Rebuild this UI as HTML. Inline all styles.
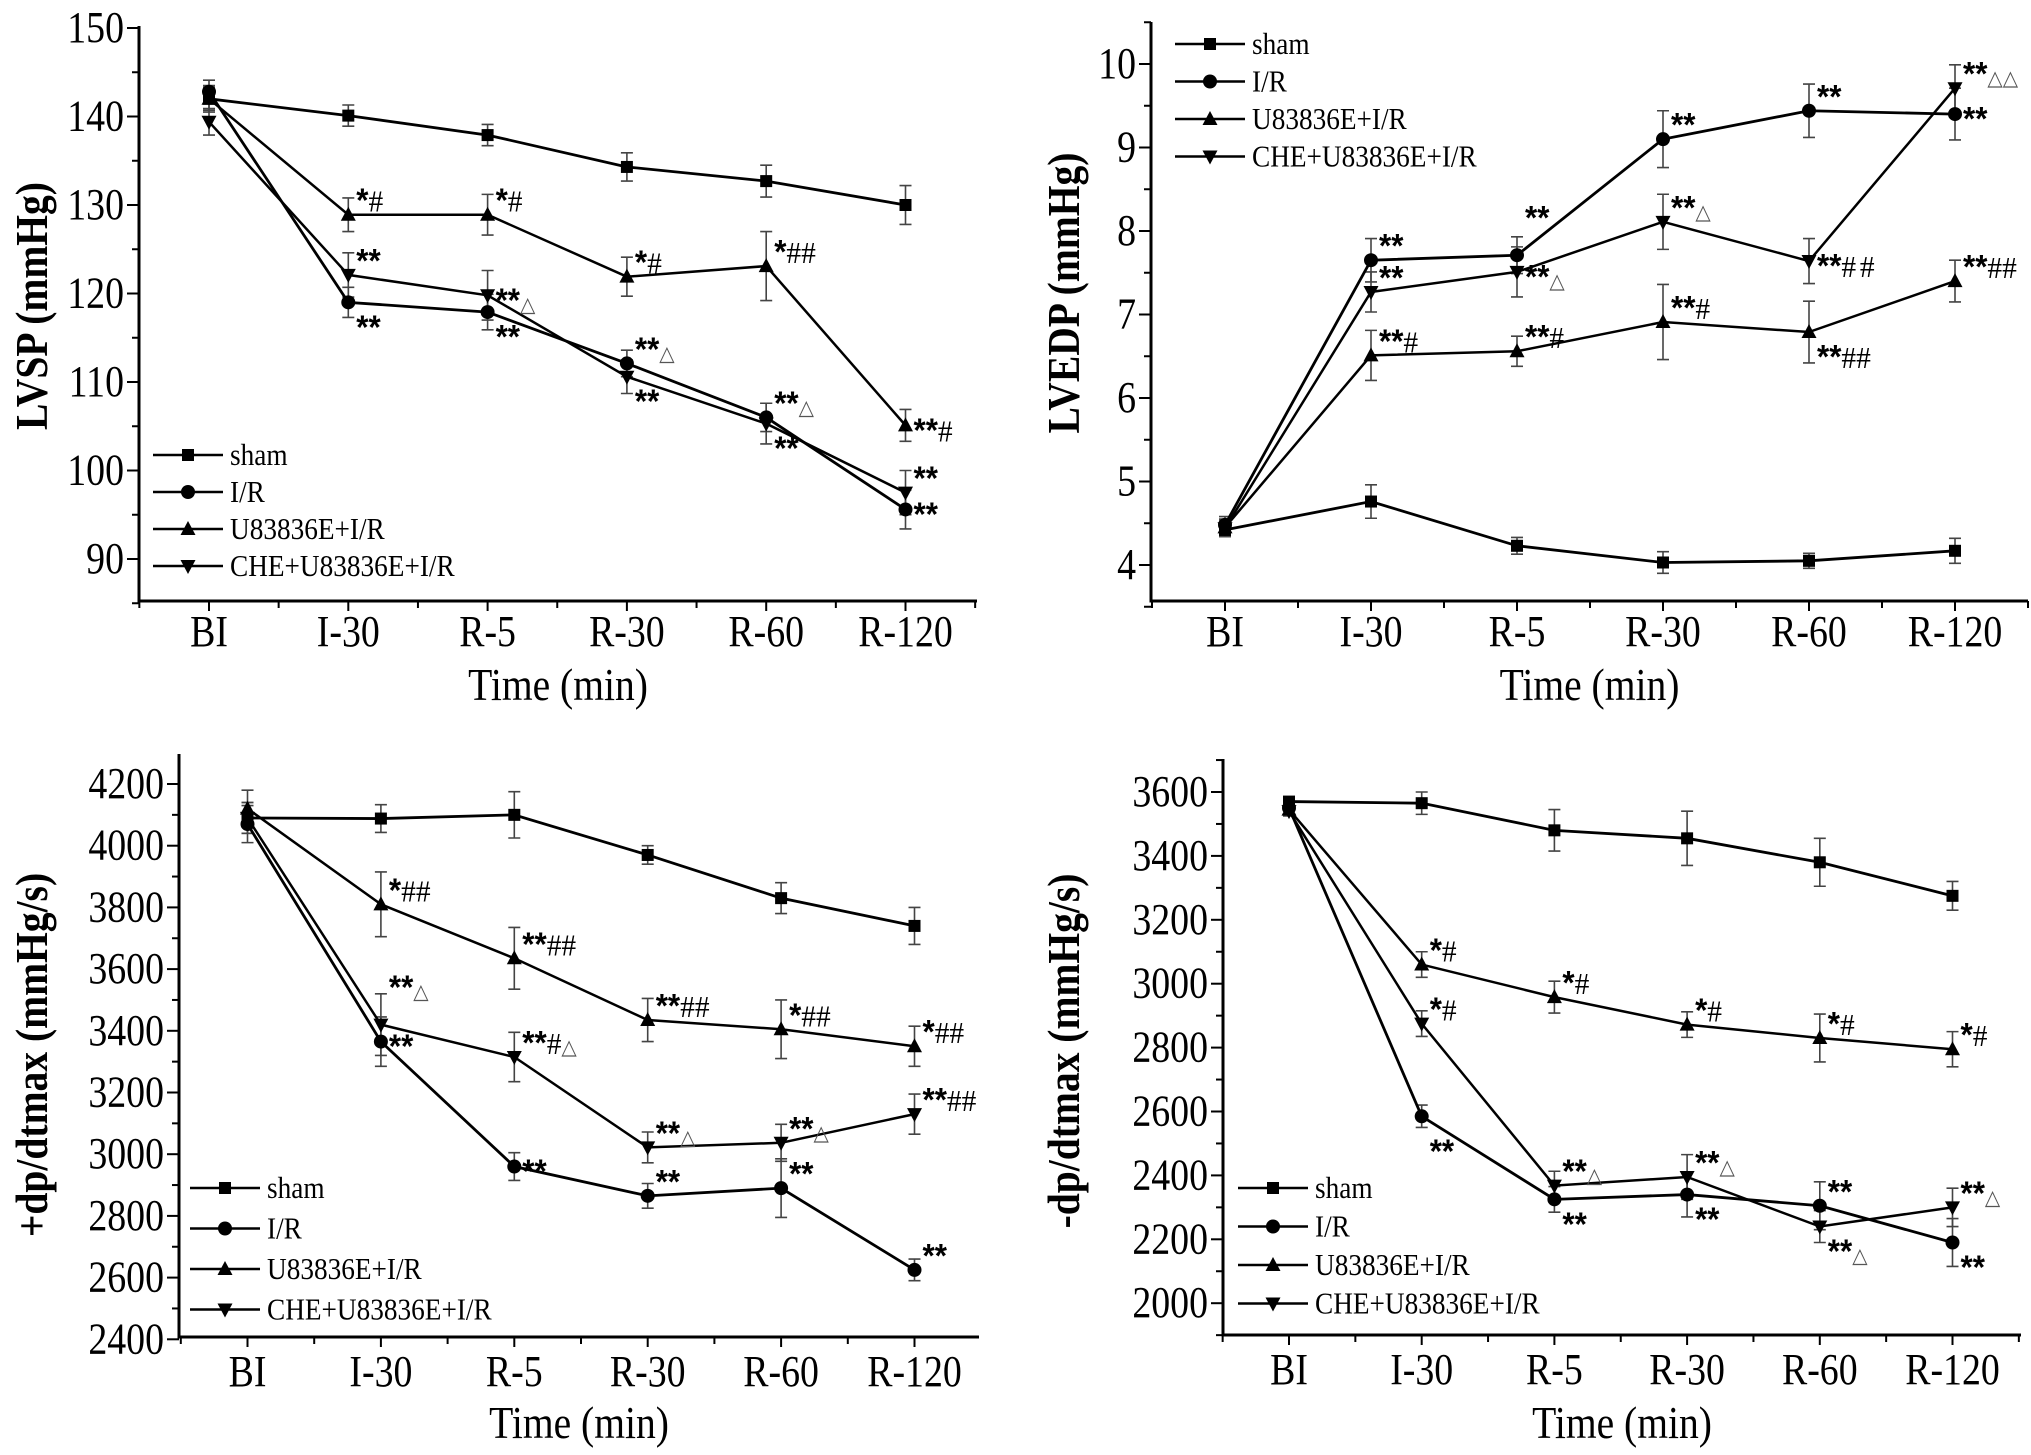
<!DOCTYPE html>
<html><head><meta charset="utf-8"><style>
html,body{margin:0;padding:0;background:#fff}
svg{display:block}
text{font-family:"Liberation Serif",serif;fill:#000}
.ann{font-family:"Liberation Sans",sans-serif;font-size:33px;font-weight:bold}
.tri{font-family:"DejaVu Sans",sans-serif;font-size:21px;font-weight:normal;fill:#555}
</style></head><body>
<svg id="fig" width="2031" height="1455" viewBox="0 0 2031 1455" xmlns="http://www.w3.org/2000/svg"></svg>
<script>
const categories=["BI","I-30","R-5","R-30","R-60","R-120"];
const seriesNames=["sham","I/R","U83836E+I/R","CHE+U83836E+I/R"];
const markerKinds=["square","circle","up","down"];

// Panel A: LVSP
const lvspSham=[142,140.1,137.9,134.3,132.7,130];
const lvspIR=[142.8,119,117.9,112.1,106,95.6];
const lvspU=[142,128.9,128.9,121.9,123.1,105.1];
const lvspCHE=[139.4,122.1,119.8,110.6,105.3,97.5];
const lvspErr=[[1.3,1.2,1.2,1.6,1.8,2.2],[1.3,1.7,2,1.5,1.6,2.2],[1.5,1.9,2.3,2.2,3.9,1.8],[1.5,2.5,2.8,1.9,2.3,2.5]];
const lvspTicks=[90,100,110,120,130,140,150];
const lvspAnn=[[2,1,"*#","a"],[2,2,"*#","a"],[2,3,"*#","a"],[2,4,"*##","a"],[2,5,"**#","r"],
[1,1,"**","b"],[1,2,"**","b"],[1,3,"**△","a"],[1,4,"**△","a"],[1,5,"**","r"],
[3,1,"**","a"],[3,2,"**△","r"],[3,3,"**","b"],[3,4,"**","b"],[3,5,"**","a"]];

// Panel B: LVEDP
const lvedpSham=[4.42,4.76,4.23,4.03,4.05,4.17];
const lvedpIR=[4.48,7.65,7.71,9.1,9.44,9.4];
const lvedpU=[4.45,6.51,6.56,6.91,6.79,7.4];
const lvedpCHE=[4.44,7.27,7.51,8.11,7.64,9.71];
const lvedpErr=[[0.08,0.2,0.1,0.13,0.09,0.15],[0.1,0.26,0.22,0.34,0.32,0.31],[0.1,0.3,0.18,0.45,0.37,0.25],[0.1,0.24,0.3,0.33,0.27,0.28]];
const lvedpTicks=[4,5,6,7,8,9,10];
const lvedpAnn=[[1,1,"**","a"],[1,2,"**","t"],[1,3,"**","a"],[1,4,"**","a"],[1,5,"**","r"],
[3,1,"**","a"],[3,2,"**△","r"],[3,3,"**△","a"],[3,4,"**# #","r"],[3,5,"**△△","a"],
[2,1,"**#","a"],[2,2,"**#","a"],[2,3,"**#","a"],[2,4,"**##","b"],[2,5,"**##","a"]];

// Panel C: +dp/dtmax
const pdpSham=[4090,4088,4100,3970,3830,3740];
const pdpIR=[4070,3365,2960,2865,2890,2625];
const pdpU=[4120,3810,3635,3435,3405,3350];
const pdpCHE=[4090,3420,3315,3022,3037,3130];
const pdpErr=[[50,45,75,30,50,60],[60,80,45,40,95,35],[60,105,100,70,95,65],[50,100,80,50,60,65]];
const pdpTicks=[2400,2600,2800,3000,3200,3400,3600,3800,4000,4200];
const pdpAnn=[[2,1,"*##","a"],[2,2,"**##","a"],[2,3,"**##","a"],[2,4,"*##","a"],[2,5,"*##","a"],
[3,1,"**△","t"],[3,2,"**#△","a"],[3,3,"**△","a"],[3,4,"**△","a"],[3,5,"**##","a"],
[1,1,"**","r"],[1,2,"**","r"],[1,3,"**","a"],[1,4,"**","a"],[1,5,"**","a"]];

// Panel D: -dp/dtmax
const ndpSham=[3570,3565,3480,3455,3380,3275];
const ndpIR=[3550,2585,2325,2340,2305,2190];
const ndpU=[3545,3060,2958,2872,2830,2795];
const ndpCHE=[3540,2875,2368,2395,2240,2300];
const ndpErr=[[15,35,65,85,75,45],[20,35,40,70,75,75],[15,40,50,40,75,55],[15,40,45,70,50,60]];
const ndpTicks=[2000,2200,2400,2600,2800,3000,3200,3400,3600];
const ndpAnn=[[2,1,"*#","a"],[2,2,"*#","a"],[2,3,"*#","a"],[2,4,"*#","a"],[2,5,"*#","a"],
[3,1,"*#","a"],[3,2,"**△","a"],[3,3,"**△","a"],[3,4,"**△","b"],[3,5,"**△","a"],
[1,1,"**","bb"],[1,2,"**","b"],[1,3,"**","b"],[1,4,"**","a"],[1,5,"**","b"]];

const NS="http://www.w3.org/2000/svg";
const fig=document.getElementById('fig');
function mk(tag,attrs,parent){const e=document.createElementNS(NS,tag);for(const k in attrs)e.setAttribute(k,attrs[k]);(parent||fig).appendChild(e);return e;}
function txt(parent,x,y,str,attrs,sx,rot){
  const a=Object.assign({x:0,y:0,transform:`translate(${x},${y})`+(rot?` rotate(${rot})`:'')+` scale(${sx},1)`},attrs);
  const t=mk('text',a,parent);t.textContent=str;return t;
}

const panels=[
 {id:"lvsp",title:"LVSP (mmHg)",series:[lvspSham,lvspIR,lvspU,lvspCHE],err:lvspErr,ticks:lvspTicks,minor:5,ann:lvspAnn,
  L:139,R:977,T:26,B:601,x0:209,step:139.3,v0:150,y0:28,pxPer:8.85,vmin:85,
  titleX:32,titleY:306,labY:646,xtY:700,legX:153,legY:455,legDy:37},
 {id:"lvedp",title:"LVEDP (mmHg)",series:[lvedpSham,lvedpIR,lvedpU,lvedpCHE],err:lvedpErr,ticks:lvedpTicks,minor:0.5,ann:lvedpAnn,
  L:1151,R:2028,T:22,B:601,x0:1225,step:146,v0:10,y0:64,pxPer:83.5,vmin:3.5,
  titleX:1064,titleY:293,labY:646,xtY:700,legX:1175,legY:44,legDy:37.5},
 {id:"pdp",title:"+dp/dtmax (mmHg/s)",series:[pdpSham,pdpIR,pdpU,pdpCHE],err:pdpErr,ticks:pdpTicks,minor:100,ann:pdpAnn,
  L:179,R:979,T:754,B:1337,x0:247.5,step:133.4,v0:4200,y0:784,pxPer:0.3085,vmin:2400,
  titleX:32,titleY:1055,labY:1386,xtY:1438,legX:190,legY:1188,legDy:40.5},
 {id:"ndp",title:"-dp/dtmax (mmHg/s)",series:[ndpSham,ndpIR,ndpU,ndpCHE],err:ndpErr,ticks:ndpTicks,minor:100,ann:ndpAnn,
  L:1223,R:2021,T:759,B:1335,x0:1289,step:132.7,v0:3600,y0:792,pxPer:0.3195,vmin:1900,
  titleX:1064,titleY:1051,labY:1384,xtY:1438,legX:1238,legY:1188,legDy:38.5}
];

function marker(g,kind,x,y,name){
  let m;
  if(kind==="square") m=mk('rect',{x:x-6,y:y-6,width:12,height:12,fill:'#000'},g);
  else if(kind==="circle") m=mk('circle',{cx:x,cy:y,r:7,fill:'#000'},g);
  else if(kind==="up") m=mk('polygon',{points:`${x},${y-8} ${x-7.5},${y+6} ${x+7.5},${y+6}`,fill:'#000'},g);
  else m=mk('polygon',{points:`${x},${y+8} ${x-7.5},${y-6} ${x+7.5},${y-6}`,fill:'#000'},g);
  
  
  return m;
}

panels.forEach(p=>{
  const xs=i=>p.x0+i*p.step;
  const ys=v=>p.y0+(p.v0-v)*p.pxPer;
  const g=mk('g',{});
  
  
  const ax=mk('path',{d:`M${p.L},${p.T}V${p.B}H${p.R}`,stroke:'#000','stroke-width':3,fill:'none'},g);
  
  
  const vtop=p.v0+(p.y0-p.T)/p.pxPer;
  for(let v=Math.ceil(p.vmin/p.minor)*p.minor; v<=vtop+1e-9; v+=p.minor){
    const major=p.ticks.some(t=>Math.abs(t-v)<1e-6);
    const y=ys(v);
    mk('line',{x1:p.L-(major?12:7),x2:p.L,y1:y,y2:y,stroke:'#000','stroke-width':2},g);
  }
  p.ticks.forEach(t=>{
    const tx=txt(g,p.L-15,ys(t)+14,String(t),{'font-size':44,'text-anchor':'end'},0.86);
    
    
  });
  for(let k=-1;k<=11;k++){
    const x=p.x0+k*p.step/2;
    if(x<p.L-1||x>p.R+1) continue;
    mk('line',{x1:x,x2:x,y1:p.B,y2:p.B+(k%2===0?10:7),stroke:'#000','stroke-width':2},g);
  }
  categories.forEach((c,i)=>{
    const tx=txt(g,xs(i),p.labY,c,{'font-size':44,'text-anchor':'middle'},0.86);
    
    
  });
  const xt=txt(g,(p.L+p.R)/2,p.xtY,"Time (min)",{'font-size':46,'text-anchor':'middle'},0.86);
  
  
  const yt=txt(g,p.titleX+15,p.titleY,p.title,{'font-size':46,'font-weight':'bold','text-anchor':'middle'},0.86,-90);
  
  
  p.series.forEach((s,si)=>{
    s.forEach((v,i)=>{
      const e=p.err[si][i],x=xs(i),y1=ys(v+e),y2=ys(v-e);
      const eb=mk('path',{d:`M${x},${y1}V${y2}M${x-6},${y1}H${x+6}M${x-6},${y2}H${x+6}`,stroke:'#444','stroke-width':1.6,fill:'none'},g);
      
      
    });
  });
  p.series.forEach((s,si)=>{
    const pl=mk('polyline',{points:s.map((v,i)=>xs(i)+','+ys(v)).join(' '),stroke:'#000','stroke-width':si===0||si===1?2.8:2.5,fill:'none'},g);
    
    
    s.forEach((v,i)=>marker(g,markerKinds[si],xs(i),ys(v),'point'));
  });
  p.ann.forEach(a=>{
    const [si,i,str,pos]=a;
    const x=xs(i)+8,y=ys(p.series[si][i]);
    const dy={a:-3,r:16,b:36,t:-26,bb:46}[pos];
    const t=mk('text',{x:0,y:0,'class':'ann',transform:`translate(${x},${y+dy}) scale(0.95,1)`},g);
    
    
    for(const ch of str){
      const sp=mk('tspan',{},t);
      if(ch==="△"){sp.setAttribute('class','tri');}
      else if(ch==="#"){sp.setAttribute('style','font-family:"Liberation Serif",serif;font-weight:normal;font-size:31px');}
      else if(ch===" "){sp.setAttribute('style','font-size:14px');}
      sp.textContent=ch;
    }
  });
  seriesNames.forEach((n,si)=>{
    const y=p.legY+si*p.legDy;
    const lg=mk('g',{},g);
    
    
    mk('line',{x1:p.legX,x2:p.legX+70,y1:y,y2:y,stroke:'#000','stroke-width':2.5},lg);
    marker(lg,markerKinds[si],p.legX+35,y,'legend-marker');
    txt(lg,p.legX+77,y+10,n,{'font-size':31},0.88);
  });
});
</script>
</body></html>
